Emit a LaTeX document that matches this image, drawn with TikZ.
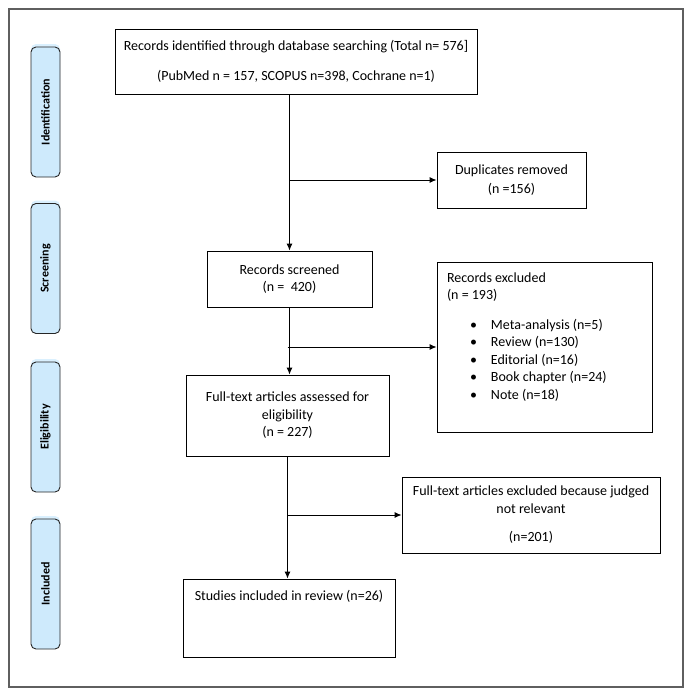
\documentclass[tikz,border=0pt]{standalone}
\usepackage{fontspec}
\setmainfont{Carlito}
\usepackage{tikz}
\usetikzlibrary{arrows.meta,shadows}

\definecolor{phaseblue}{RGB}{206,234,252}
\definecolor{phaseshade}{RGB}{218,240,254}
\definecolor{framegray}{RGB}{95,95,95}
\newcommand{\exitem}[1]{\par\hspace*{23pt}\makebox[21pt][l]{\textbullet}#1}

\begin{document}
\begin{tikzpicture}[>={Latex[length=7pt,width=6pt]},line width=0.9pt,x=1pt,y=-1pt,
                    font=\fontsize{14}{17.5}\selectfont]

  \tikzstyle{flowbox}=[rectangle,draw,align=center,inner sep=4pt]
  \tikzstyle{phasebox}=[rectangle,draw=black!85,fill=phaseblue,rounded corners=5pt,
                        minimum width=29pt,minimum height=130pt,inner sep=0pt,
                        font=\bfseries\fontsize{12}{13}\selectfont,
                        general shadow={fill=phaseshade,shadow yshift=3pt}]

  \useasboundingbox (0,0) rectangle (692,696);
  \draw[framegray,line width=1.2pt] (9,9) rectangle (683,687);

  % phases on the left
  \node[phasebox] (pIdent) at (45.5,112)   {\rotatebox{90}{Identification}};
  \node[phasebox] (pScreen) at (45.5,268.5) {\rotatebox{90}{Screening}};
  \node[phasebox] (pElig) at (45.5,427)     {\rotatebox{90}{Eligibility}};
  \node[phasebox] (pIncl) at (45.5,584)     {\rotatebox{90}{Included}};

  % flow boxes
  \node[flowbox,minimum width=362pt,minimum height=65pt] (ident) at (296,61.5)
    {Records identified through database searching (Total n= 576]\\[13pt]
     (PubMed n = 157, SCOPUS n=398, Cochrane n=1)};
  \node[flowbox,minimum width=149pt,minimum height=56pt] (dup) at (511.5,180)
    {Duplicates removed\\[1.5pt](n =156)};
  \node[flowbox,minimum width=165pt,minimum height=56pt] (screened) at (289.5,279)
    {Records screened\\(n = \ 420)};
  \node[flowbox,inner xsep=10pt,inner ysep=6pt] (excl) at (544.5,347)
    {\parbox[c][158pt][t]{195pt}{\rule{0pt}{14pt}Records excluded\\(n = 193)\par\vspace{12pt}%
     \exitem{Meta-analysis (n=5)}%
     \exitem{Review (n=130)}%
     \exitem{Editorial (n=16)}%
     \exitem{Book chapter (n=24)}%
     \exitem{Note (n=18)}}};
  \node[flowbox,minimum width=203pt,minimum height=81pt] (fulltext) at (287.5,415.5)
    {Full-text articles assessed for\\eligibility\\(n = 227)};
  \node[flowbox,minimum width=258pt,minimum height=76pt] (notrel) at (531,515)
    {Full-text articles excluded because judged\\not relevant\\[11pt](n=201)};
  \node[flowbox,inner xsep=6pt,inner ysep=6pt] (studies) at (289,618)
    {\parbox[c][66pt][t]{200pt}{\centering\rule{0pt}{15pt}Studies included in review (n=26)}};

  \path[->]
  (screened.north |- ident.south) edge (screened.north)
  (dup.west -| screened.north) edge (dup.west)
  (screened.south) edge (screened.south |- fulltext.north)
  (excl.west -| fulltext.north) edge (excl.west)
  (fulltext.south) edge (fulltext.south |- studies.north)
  (notrel.west -| fulltext.south) edge (notrel.west)
  ;
\end{tikzpicture}
\end{document}
